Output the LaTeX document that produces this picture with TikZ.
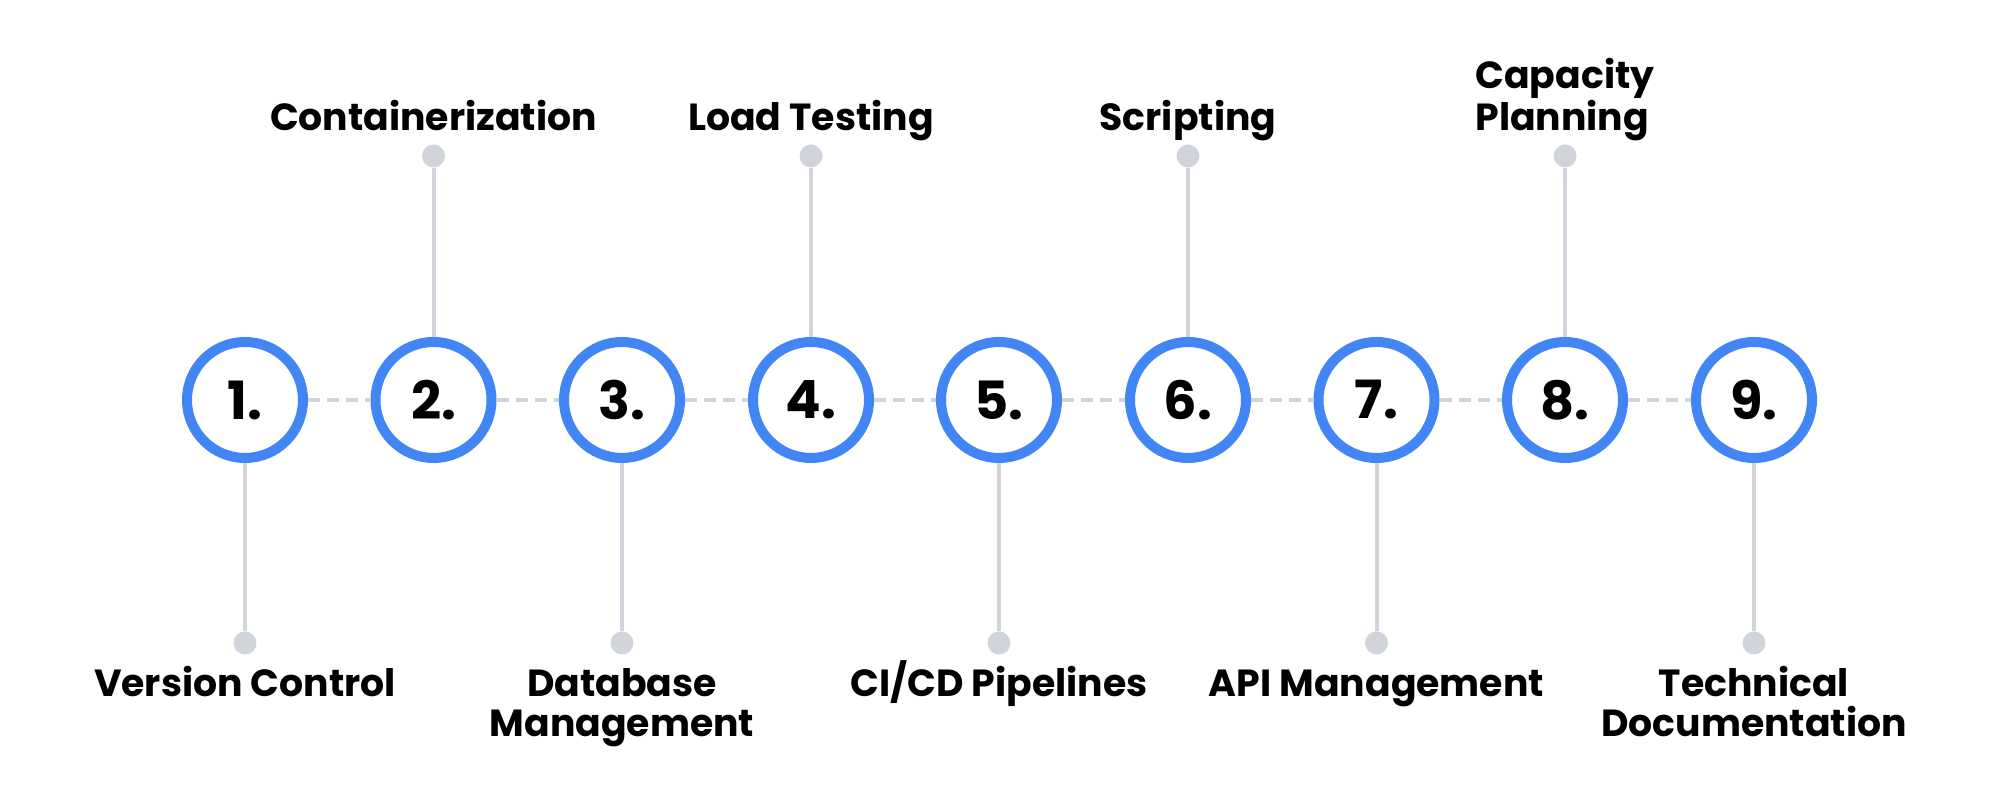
\documentclass[tikz,border=0pt]{standalone}
\usepackage{fontspec}
\setmainfont{Poppins}
\definecolor{stepblue}{HTML}{4285F4}
\definecolor{linkgray}{HTML}{D1D5DB}
\begin{document}
\begin{tikzpicture}[x=1cm,y=1cm]
    % styles
    \tikzset{
        stepring/.style={circle,draw=stepblue,line width=0.2cm,fill=white,minimum size=2.32cm,inner sep=0pt,font=\fontsize{30}{30}\selectfont\bfseries},
        pin/.style={circle,fill=linkgray,minimum size=0.46cm,inner sep=0pt},
        topic/.style={align=center,font=\fontsize{21.5}{22.8}\selectfont\bfseries},
        link/.style={draw=linkgray,line width=0.08cm,dash pattern=on 0.24cm off 0.14cm},
        stem/.style={draw=linkgray,line width=0.08cm}
    }
    \useasboundingbox (0,0) rectangle (40,16);

    % steps
    \node[stepring] (n1) at (4.90,8) {1.};
    \node[stepring] (n2) at (8.67,8) {2.};
    \node[stepring] (n3) at (12.44,8) {3.};
    \node[stepring] (n4) at (16.22,8) {4.};
    \node[stepring] (n5) at (19.98,8) {5.};
    \node[stepring] (n6) at (23.76,8) {6.};
    \node[stepring] (n7) at (27.53,8) {7.};
    \node[stepring] (n8) at (31.30,8) {8.};
    \node[stepring] (n9) at (35.08,8) {9.};

    % pins
    \node[pin] (d1) at (4.90,3.14) {};
    \node[pin] (d2) at (8.67,12.88) {};
    \node[pin] (d3) at (12.44,3.14) {};
    \node[pin] (d4) at (16.22,12.88) {};
    \node[pin] (d5) at (19.98,3.14) {};
    \node[pin] (d6) at (23.76,12.88) {};
    \node[pin] (d7) at (27.53,3.14) {};
    \node[pin] (d8) at (31.30,12.88) {};
    \node[pin] (d9) at (35.08,3.14) {};

    % dashed links between steps
    \draw[link] (n1) -- (n2);
    \draw[link] (n2) -- (n3);
    \draw[link] (n3) -- (n4);
    \draw[link] (n4) -- (n5);
    \draw[link] (n5) -- (n6);
    \draw[link] (n6) -- (n7);
    \draw[link] (n7) -- (n8);
    \draw[link] (n8) -- (n9);

    % stems
    \draw[stem] (n1) -- (d1);
    \draw[stem] (n2) -- (d2);
    \draw[stem] (n3) -- (d3);
    \draw[stem] (n4) -- (d4);
    \draw[stem] (n5) -- (d5);
    \draw[stem] (n6) -- (d6);
    \draw[stem] (n7) -- (d7);
    \draw[stem] (n8) -- (d8);
    \draw[stem] (n9) -- (d9);

    % labels (base = last line)
    \node[topic,anchor=base] (t1) at (4.90,2.06)  {Version Control};
    \node[topic,anchor=base] (t2) at (8.67,13.38) {Containerization};
    \node[topic,anchor=base] (t3) at (12.44,1.26) {Database\\Management};
    \node[topic,anchor=base] (t4) at (16.22,13.38) {Load Testing};
    \node[topic,anchor=base] (t5) at (19.98,2.06) {CI/CD Pipelines};
    \node[topic,anchor=base] (t6) at (23.76,13.38) {Scripting};
    \node[topic,anchor=base] (t7) at (27.53,2.06) {API Management};
    \node[topic,anchor=base,align=left] (t8) at (31.30,13.38) {Capacity\\Planning};
    \node[topic,anchor=base] (t9) at (35.08,1.26) {Technical\\Documentation};
\end{tikzpicture}
\end{document}
